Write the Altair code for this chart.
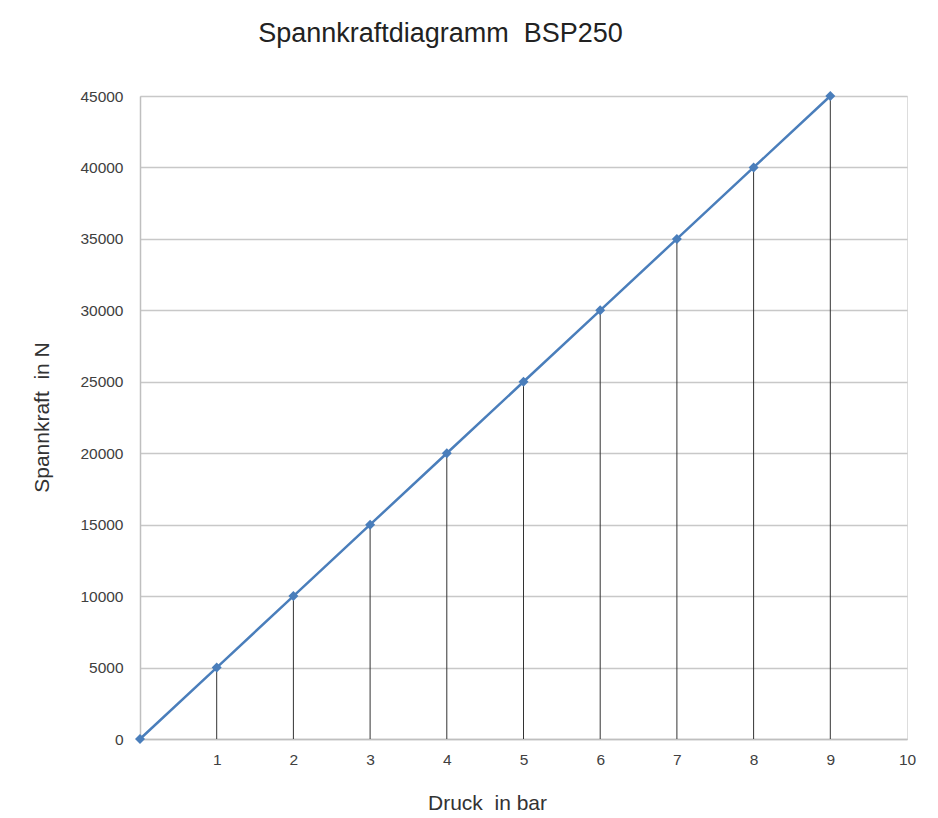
import altair as alt
import pandas as pd

druck = [0, 1, 2, 3, 4, 5, 6, 7, 8, 9]
spannkraft = [0, 5000, 10000, 15000, 20000, 25000, 30000, 35000, 40000, 45000]
x_ticks = [1, 2, 3, 4, 5, 6, 7, 8, 9, 10]
y_ticks = [0, 5000, 10000, 15000, 20000, 25000, 30000, 35000, 40000, 45000]

df = pd.DataFrame({"druck": druck, "kraft": spannkraft, "zero": [0] * len(druck)})

FONT = "Liberation Sans"

x_enc = alt.X(
    "druck:Q",
    scale=alt.Scale(domain=[0, 10], nice=False),
    axis=alt.Axis(
        values=x_ticks, title="Druck\u00a0 in bar", grid=False, ticks=False,
        labelPadding=13, labelFontSize=15.5, labelColor="#404040", labelFont=FONT,
        labelFlush=False, labelOverlap=False,
        domainColor="#bfbfbf", domainWidth=1.5,
        titleFont=FONT, titleFontSize=21, titleFontWeight="normal", titleColor="#333333",
        titleX=347, titleY=64, titleBaseline="middle", titleAlign="center",
    ),
)
y_enc = alt.Y(
    "kraft:Q",
    scale=alt.Scale(domain=[0, 45000], nice=False),
    axis=alt.Axis(
        values=y_ticks, format="d", title="Spannkraft\u00a0 in N", grid=True,
        gridColor="#c8c8c8", gridWidth=1.3,
        ticks=False, labelPadding=17, labelFontSize=15.5, labelColor="#404040", labelFont=FONT,
        labelFlush=False, labelOverlap=False,
        domainColor="#bfbfbf", domainWidth=1.5,
        titleFont=FONT, titleFontSize=21, titleFontWeight="normal", titleColor="#333333",
        titleX=-98, titleY=321, titleBaseline="middle", titleAlign="center", titleAngle=-90,
    ),
)

drops = alt.Chart(df).mark_rule(color="#333333", strokeWidth=1).encode(
    x=x_enc, y=alt.Y("zero:Q"), y2="kraft:Q"
)
line = alt.Chart(df).mark_line(color="#4a7ebb", strokeWidth=2.5).encode(x=x_enc, y=y_enc)
pts = alt.Chart(df).mark_point(shape="diamond", filled=True, size=100, color="#4a7ebb", opacity=1).encode(
    x=x_enc, y=y_enc
)

chart = alt.layer(drops, line, pts).properties(
    width=767,
    height=643,
    autosize="none",
    padding={"left": 132, "top": 88, "right": 23, "bottom": 76},
    title=alt.TitleParams(
        "Spannkraftdiagramm\u00a0 BSP250", anchor="middle", frame="group", dx=-83, offset=41,
        font=FONT, fontSize=27, fontWeight="normal", color="#222222",
    ),
).configure_view(stroke=None).configure(background="white")

chart.save("out.html", embed_options={"renderer": "svg", "actions": False})
